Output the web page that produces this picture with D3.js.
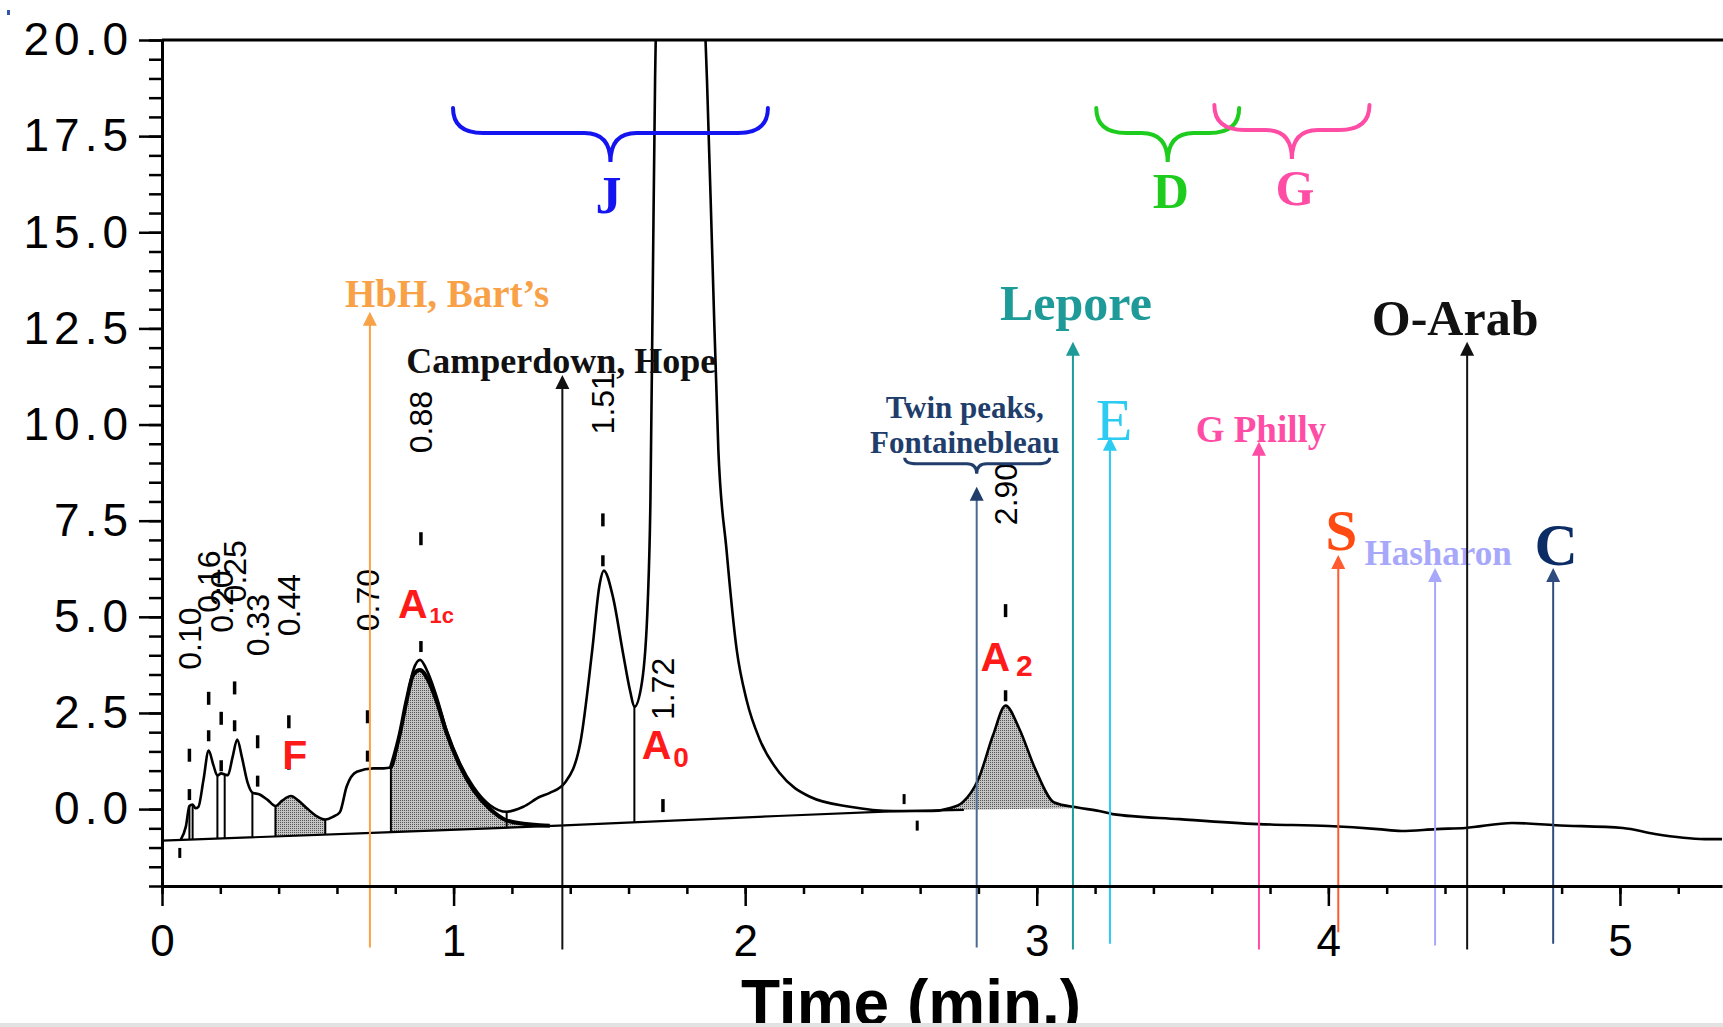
<!DOCTYPE html>
<html>
<head>
<meta charset="utf-8">
<script src="https://cdn.jsdelivr.net/npm/d3@7"></script>
<style>
  body { margin: 0; background: #fff; }
  svg { display: block; }
</style>
</head>
<body>
<svg id="chart" width="1723" height="1027"></svg>
<script>
// chromatogram signal, [time (min), absorbance]
const signal = [
  [0.064,-0.80],[0.082,-0.45],[0.094,0.08],[0.105,0.12],[0.115,0.02],[0.125,0.06],[0.142,0.75],
  [0.16,1.52],[0.176,1.15],[0.19,0.87],[0.203,0.93],[0.215,0.9],[0.226,0.88],[0.242,1.35],
  [0.258,1.81],[0.274,1.35],[0.293,0.7],[0.31,0.43],[0.335,0.38],[0.362,0.24],[0.389,0.08],
  [0.412,0.22],[0.442,0.34],[0.468,0.22],[0.5,0.0],[0.53,-0.18],[0.56,-0.27],[0.586,-0.2],
  [0.61,-0.08],[0.633,0.58],[0.668,0.97],[0.725,1.06],[0.76,1.06],[0.785,1.08],
  [0.816,1.97],[0.839,2.83],[0.862,3.62],[0.885,3.88],[0.913,3.53],[0.942,2.92],[0.976,2.05],
  [1.022,1.19],[1.068,0.58],[1.125,0.10],[1.182,-0.07],[1.239,0.06],[1.296,0.32],[1.33,0.42],
  [1.383,0.70],[1.435,1.74],[1.475,4.1],[1.501,5.85],[1.515,6.2],[1.547,5.5],[1.58,4.1],
  [1.606,3.05],[1.62,2.66],[1.646,3.3],[1.666,5.4],[1.675,8.0],[1.683,13.5],[1.691,18.96],
  [1.70,22],[1.78,30],[1.85,22],[1.864,20],[1.869,18.96],[1.888,14.2],[1.908,9.34],[1.936,6.74],
  [1.971,4.14],[2.005,2.83],[2.051,1.79],[2.119,0.93],[2.222,0.32],[2.359,0.06],[2.51,-0.05],
  [2.64,-0.05],[2.70,0.02],
  [2.745,0.17],[2.80,0.78],[2.85,1.92],[2.893,2.69],[2.94,2.09],[2.995,1.04],[3.06,0.17],
  [3.14,0.04],[3.214,-0.05],[3.26,-0.13],[3.49,-0.26],[3.76,-0.39],[4.0,-0.44],[4.17,-0.52],
  [4.25,-0.57],[4.37,-0.52],[4.47,-0.49],[4.63,-0.36],[4.78,-0.42],[5.01,-0.49],[5.12,-0.65],
  [5.29,-0.78],[5.35,-0.78]
];

// integrator baseline
const baseline = [[0,-0.82],[0.72,-0.62],[1.36,-0.43],[2.11,-0.18],[2.5,-0.06],[2.75,-0.02],[3.1,0.02]];

// separated A1c peak (shaded)
const a1cPeak = [
  [0.785,1.08],[0.816,1.97],[0.839,2.83],[0.862,3.5],[0.885,3.62],[0.913,3.35],[0.942,2.8],
  [0.976,1.98],[1.022,1.12],[1.068,0.5],[1.125,0.0],[1.18,-0.29],[1.24,-0.38],[1.296,-0.42],[1.33,-0.43]
];

// peak boundaries (drop lines)
const dropTimes = [0.094, 0.105, 0.19, 0.215, 0.31, 0.389, 0.56, 0.785, 1.182, 1.62];

// retention time marks
const markLabels = ['0.10','0.16','0.20','0.25','0.33','0.44','0.70','0.88','1.51','1.72','2.90'];
const markTimes  = [0.094, 0.16, 0.203, 0.249, 0.328, 0.435, 0.705, 0.888, 1.512, 1.718, 2.893];
const markHigh   = [1.57, 3.05, 2.53, 3.32, 1.92, 2.44, 2.57, 7.2, 7.69, 0.26, 5.33];
const markLow    = [0.52, 2.05, 1.27, 2.31, 0.87, 1.31, 1.52, 4.37, 6.6, null, 3.09];
const strayTimes  = [0.061, 2.545, 2.59];
const strayLevels = [-1.01, 0.39, -0.3];

// named peaks in the trace
const peakNames = ['F', 'A', 'A', 'A'];
const peakSubs  = ['', '1c', '0', '2'];
const peakTimes = [0.455, 0.809, 1.645, 2.807];
const peakLevels = [1.04, 4.98, 1.30, 3.58];

// variant windows (arrows)
const variantNames = ['HbH, Bart’s', 'Camperdown, Hope', 'Twin peaks,|Fontainebleau', 'Lepore', 'E',
                      'G Philly', 'S', 'Hasharon', 'O-Arab', 'C'];
const variantTimes = [0.713, 1.373, 2.794, 3.124, 3.251, 3.762, 4.034, 4.366, 4.476, 4.771];
const variantTips  = [12.93, 11.29, 8.38, 12.15, 9.68, 9.55, 6.61, 6.27, 12.15, 6.27];
const variantFoot  = [-3.6, -3.65, -3.6, -3.65, -3.5, -3.65, -3.2, -3.55, -3.65, -3.5];

// variant windows (braces)
const groupNames = ['J', 'D', 'G'];
const groupStart = [0.998, 3.204, 3.609];
const groupEnd   = [2.078, 3.694, 4.141];
const groupLevel = [18.23, 18.23, 18.31];

const xMajor = [0, 1, 2, 3, 4, 5];
const yMajor = [0, 2.5, 5, 7.5, 10, 12.5, 15, 17.5, 20];

// ---- styles ----
const variantStyle = [
  { color: '#F8A147', line: '#F8A147', size: 39, weight: 'bold', anchor: 'start',  dx: -25,  dy: -5 },
  { color: '#111111', line: '#111111', size: 36, weight: 'bold', anchor: 'start',  dx: -156, dy: -2 },
  { color: '#203D6B', line: '#4B6A94', size: 31, weight: 'bold', anchor: 'middle', dx: -12,  dy: -69 },
  { color: '#1E9B98', line: '#1E9B98', size: 50, weight: 'bold', anchor: 'middle', dx: 3,    dy: -22 },
  { color: '#2BCBF2', line: '#2BCBF2', size: 60, weight: 'normal', anchor: 'middle', dx: 4,  dy: 3 },
  { color: '#FF4DA6', line: '#FF4DA6', size: 37, weight: 'bold', anchor: 'middle', dx: 2,    dy: 0 },
  { color: '#FF4A12', line: '#FF5A30', size: 57, weight: 'bold', anchor: 'middle', dx: 3,    dy: -5 },
  { color: '#A8A8FB', line: '#A8A8FB', size: 35, weight: 'bold', anchor: 'middle', dx: 3,    dy: -3 },
  { color: '#111111', line: '#111111', size: 50, weight: 'bold', anchor: 'middle', dx: -12,  dy: -7 },
  { color: '#0C2C66', line: '#2F4C80', size: 60, weight: 'bold', anchor: 'middle', dx: 3,    dy: -3 }
];
const groupColor = ['#1414F0', '#1ECC1E', '#FF4DA6'];
const groupLabelDx = [-2, 3, 3];
const groupLabelDy = [51, 46, 46];
const groupLabelSize = [52, 50, 50];

const serif = "'Liberation Serif', 'Times New Roman', serif";
const sans = "'Liberation Sans', Arial, Helvetica, sans-serif";

const svg = d3.select('#chart');
const x = d3.scaleLinear().domain([0, 5.35]).range([162, 1722]);
const y = d3.scaleLinear().domain([-2, 20]).range([886, 40]);
const base = d3.scaleLinear()
  .domain(baseline.map(d => d[0]))
  .range(baseline.map(d => d[1]))
  .clamp(true);

const defs = svg.append('defs');
defs.append('clipPath').attr('id', 'plot-clip')
  .append('rect').attr('x', 162).attr('y', 40).attr('width', 1561).attr('height', 846);

// stippled fill for integrated peaks
const pat = defs.append('pattern').attr('id', 'stipple')
  .attr('width', 2).attr('height', 2).attr('patternUnits', 'userSpaceOnUse');
pat.append('rect').attr('width', 2).attr('height', 2).attr('fill', '#c4c4c4');
pat.append('rect').attr('width', 1).attr('height', 1).attr('fill', '#555');

// tiny mark in the corner of the scan
svg.append('rect').attr('x', 7).attr('y', 10).attr('width', 3).attr('height', 5).attr('fill', '#3355aa');

const plot = svg.append('g').attr('clip-path', 'url(#plot-clip)');

// ---- shaded peaks ----
const area = d3.area()
  .x(d => x(d[0]))
  .y0(d => y(base(d[0])))
  .y1(d => y(d[1]))
  .curve(d3.curveMonotoneX);

plot.append('path')
  .datum(signal.filter(d => d[0] >= 0.389 && d[0] <= 0.56))
  .attr('d', area).attr('fill', 'url(#stipple)');
plot.append('path')
  .datum(signal.filter(d => d[0] >= 2.70 && d[0] <= 3.14))
  .attr('d', area).attr('fill', 'url(#stipple)');
plot.append('path')
  .datum(a1cPeak)
  .attr('d', area).attr('fill', 'url(#stipple)');

// ---- baseline ----
plot.append('path')
  .datum(baseline.filter(d => d[0] <= 2.75))
  .attr('d', d3.line().x(d => x(d[0])).y(d => y(d[1])))
  .attr('fill', 'none').attr('stroke', '#000').attr('stroke-width', 2.2);

// ---- drop lines ----
plot.selectAll('.drop')
  .data(dropTimes)
  .join('line')
  .attr('class', 'drop')
  .attr('x1', d => x(d)).attr('x2', d => x(d))
  .attr('y1', d => y(signal.find(p => p[0] === d)[1]))
  .attr('y2', d => y(base(d)))
  .attr('stroke', '#000').attr('stroke-width', 2);

// ---- signal ----
const line = d3.line().x(d => x(d[0])).y(d => y(d[1])).curve(d3.curveMonotoneX);
plot.append('path').datum(signal)
  .attr('d', line)
  .attr('fill', 'none').attr('stroke', '#000').attr('stroke-width', 2.6).attr('stroke-linejoin', 'round');
plot.append('path').datum(a1cPeak)
  .attr('d', line)
  .attr('fill', 'none').attr('stroke', '#000').attr('stroke-width', 4);

// ---- retention time marks ----
const marks = svg.append('g');
markTimes.forEach((t, i) => {
  marks.append('line')
    .attr('x1', x(t)).attr('x2', x(t))
    .attr('y1', y(markHigh[i])).attr('y2', y(markHigh[i]) + 13)
    .attr('stroke', '#000').attr('stroke-width', 3.5);
  if (markLow[i] !== null) {
    marks.append('line')
      .attr('x1', x(t)).attr('x2', x(t))
      .attr('y1', y(markLow[i])).attr('y2', y(markLow[i]) + 11)
      .attr('stroke', '#000').attr('stroke-width', 3.5);
  }
  marks.append('text')
    .attr('transform', `translate(${x(t)},${y(markHigh[i]) - 79}) rotate(-90)`)
    .attr('dy', '0.36em')
    .attr('font-family', sans).attr('font-size', 32)
    .attr('fill', '#000')
    .text(markLabels[i]);
});
strayTimes.forEach((t, i) => {
  marks.append('line')
    .attr('x1', x(t)).attr('x2', x(t))
    .attr('y1', y(strayLevels[i])).attr('y2', y(strayLevels[i]) + 10)
    .attr('stroke', '#000').attr('stroke-width', 3);
});

// ---- peak names ----
const subDx = [0, 2, 2, 6];
const subDy = [0, 5, 8, 5];
const subSize = [0, 22, 28, 30];
peakNames.forEach((name, i) => {
  const txt = svg.append('text')
    .attr('x', x(peakTimes[i])).attr('y', y(peakLevels[i]))
    .attr('text-anchor', i === 0 ? 'middle' : 'start')
    .attr('font-family', sans).attr('font-weight', 'bold')
    .attr('font-size', 41).attr('fill', '#FF1A1A');
  txt.append('tspan').text(name);
  if (peakSubs[i]) {
    txt.append('tspan')
      .attr('dx', subDx[i]).attr('dy', subDy[i])
      .attr('font-size', subSize[i])
      .text(peakSubs[i]);
  }
});

// ---- brace helper ----
function brace(x0, x1, xc, yTop, yMid, yCusp, r1, r2) {
  return `M${x0},${yTop} Q${x0},${yMid} ${x0 + r1},${yMid} L${xc - r2},${yMid} ` +
         `Q${xc},${yMid} ${xc},${yCusp} Q${xc},${yMid} ${xc + r2},${yMid} ` +
         `L${x1 - r1},${yMid} Q${x1},${yMid} ${x1},${yTop}`;
}

// ---- variant arrows ----
const ann = svg.append('g');
variantNames.forEach((name, i) => {
  const st = variantStyle[i];
  const lx = x(variantTimes[i]);
  const tip = y(variantTips[i]);
  ann.append('line')
    .attr('x1', lx).attr('x2', lx)
    .attr('y1', y(variantFoot[i])).attr('y2', tip + 10)
    .attr('stroke', st.line).attr('stroke-width', 2);
  ann.append('path')
    .attr('d', `M${lx},${tip} L${lx - 7},${tip + 14} L${lx + 7},${tip + 14} Z`)
    .attr('fill', st.color === '#203D6B' ? '#203D6B' : st.line);
  const parts = name.split('|');
  parts.forEach((p, k) => {
    ann.append('text')
      .attr('x', lx + st.dx).attr('y', tip + st.dy + k * 35)
      .attr('text-anchor', st.anchor)
      .attr('font-family', serif).attr('font-weight', st.weight)
      .attr('font-size', st.size).attr('fill', st.color)
      .text(p);
  });
  if (parts.length > 1) {
    ann.append('path')
      .attr('d', brace(lx - 72, lx + 73, lx, tip - 29, tip - 23, tip - 13, 12, 10))
      .attr('fill', 'none').attr('stroke', st.color).attr('stroke-width', 3);
  }
});

// ---- group braces ----
groupNames.forEach((name, i) => {
  const x0 = x(groupStart[i]), x1 = x(groupEnd[i]);
  const xc = (x0 + x1) / 2;
  const top = y(groupLevel[i]);
  svg.append('path')
    .attr('d', brace(x0, x1, xc, top, top + 25, top + 54, 30, 26))
    .attr('fill', 'none').attr('stroke', groupColor[i]).attr('stroke-width', 4)
    .attr('stroke-linecap', 'round');
  svg.append('text')
    .attr('x', xc + groupLabelDx[i]).attr('y', top + 54 + groupLabelDy[i])
    .attr('text-anchor', 'middle')
    .attr('font-family', serif).attr('font-weight', 'bold')
    .attr('font-size', groupLabelSize[i]).attr('fill', groupColor[i])
    .text(name);
});

// ---- axes ----
const yMinor = d3.range(-2, 20.01, 0.5);
const xMinor = d3.range(0, 5.35, 0.2);

svg.append('g').attr('transform', 'translate(162,0)')
  .call(d3.axisLeft(y).tickValues(yMinor).tickSize(13).tickSizeOuter(0).tickFormat(''));
svg.append('g').attr('transform', 'translate(162,0)')
  .call(d3.axisLeft(y).tickValues(yMajor).tickSize(23).tickSizeOuter(0).tickPadding(6)
    .tickFormat(d3.format('.1f')))
  .call(g => g.select('.domain').remove())
  .call(g => g.selectAll('text')
    .attr('font-family', sans).attr('font-size', 46).attr('fill', '#000')
    .style('letter-spacing', '5px'));

svg.append('g').attr('transform', 'translate(0,886)')
  .call(d3.axisBottom(x).tickValues(xMinor).tickSize(8).tickSizeOuter(0).tickFormat(''));
svg.append('g').attr('transform', 'translate(0,886)')
  .call(d3.axisBottom(x).tickValues(xMajor).tickSize(20).tickSizeOuter(0).tickPadding(19)
    .tickFormat(d3.format('d')))
  .call(g => g.select('.domain').remove())
  .call(g => g.selectAll('text')
    .attr('font-family', sans).attr('font-size', 44).attr('fill', '#000'));

svg.selectAll('.tick line').attr('stroke', '#000').attr('stroke-width', 2.5);
svg.selectAll('.domain').attr('stroke', '#000').attr('stroke-width', 3);

// top frame
svg.append('line')
  .attr('x1', 162).attr('x2', 1723).attr('y1', y(20)).attr('y2', y(20))
  .attr('stroke', '#000').attr('stroke-width', 3);

// axis title (cut by the bottom edge, as in the scan)
svg.append('text')
  .attr('x', 911).attr('y', 1025)
  .attr('text-anchor', 'middle')
  .attr('font-family', sans).attr('font-weight', 'bold')
  .attr('font-size', 64).attr('fill', '#000')
  .text('Time (min.)');

// scan edge
svg.append('rect').attr('x', 0).attr('y', 1023).attr('width', 1723).attr('height', 4).attr('fill', '#e2e2e2');
</script>
</body>
</html>
